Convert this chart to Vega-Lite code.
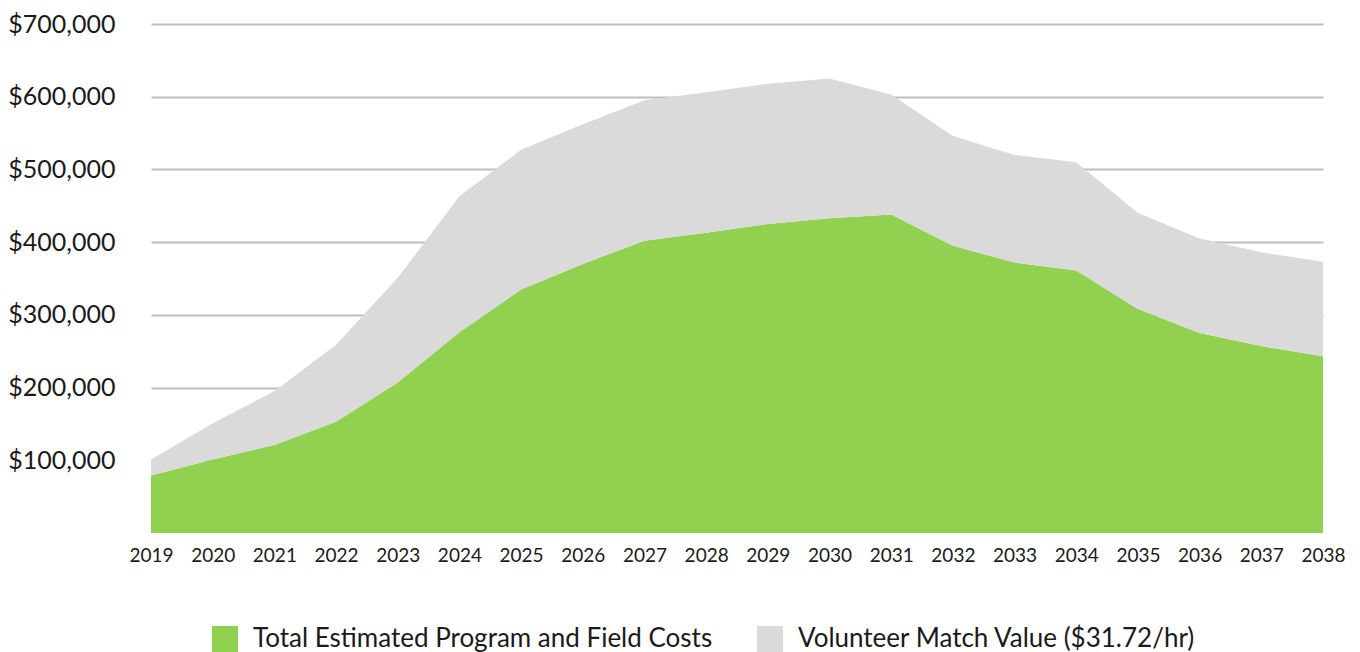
{
  "$schema": "https://vega.github.io/schema/vega-lite/v6.json",
  "autosize": "none",
  "width": 1172,
  "height": 509,
  "padding": {"left": 151, "top": 24, "right": 37, "bottom": 119},
  "background": "white",
  "config": {
    "view": {"stroke": null},
    "font": "Lato"
  },
  "data": {
    "values": [
      {"year": 2019, "series": "Total Estimated Program and Field Costs", "ord": 1, "value": 79000},
      {"year": 2020, "series": "Total Estimated Program and Field Costs", "ord": 1, "value": 101000},
      {"year": 2021, "series": "Total Estimated Program and Field Costs", "ord": 1, "value": 121000},
      {"year": 2022, "series": "Total Estimated Program and Field Costs", "ord": 1, "value": 153000},
      {"year": 2023, "series": "Total Estimated Program and Field Costs", "ord": 1, "value": 207000},
      {"year": 2024, "series": "Total Estimated Program and Field Costs", "ord": 1, "value": 276000},
      {"year": 2025, "series": "Total Estimated Program and Field Costs", "ord": 1, "value": 335000},
      {"year": 2026, "series": "Total Estimated Program and Field Costs", "ord": 1, "value": 370000},
      {"year": 2027, "series": "Total Estimated Program and Field Costs", "ord": 1, "value": 402000},
      {"year": 2028, "series": "Total Estimated Program and Field Costs", "ord": 1, "value": 413000},
      {"year": 2029, "series": "Total Estimated Program and Field Costs", "ord": 1, "value": 425000},
      {"year": 2030, "series": "Total Estimated Program and Field Costs", "ord": 1, "value": 433000},
      {"year": 2031, "series": "Total Estimated Program and Field Costs", "ord": 1, "value": 438000},
      {"year": 2032, "series": "Total Estimated Program and Field Costs", "ord": 1, "value": 395000},
      {"year": 2033, "series": "Total Estimated Program and Field Costs", "ord": 1, "value": 372000},
      {"year": 2034, "series": "Total Estimated Program and Field Costs", "ord": 1, "value": 361000},
      {"year": 2035, "series": "Total Estimated Program and Field Costs", "ord": 1, "value": 308000},
      {"year": 2036, "series": "Total Estimated Program and Field Costs", "ord": 1, "value": 275000},
      {"year": 2037, "series": "Total Estimated Program and Field Costs", "ord": 1, "value": 257000},
      {"year": 2038, "series": "Total Estimated Program and Field Costs", "ord": 1, "value": 243000},
      {"year": 2019, "series": "Volunteer Match Value ($31.72/hr)", "ord": 2, "value": 22000},
      {"year": 2020, "series": "Volunteer Match Value ($31.72/hr)", "ord": 2, "value": 50000},
      {"year": 2021, "series": "Volunteer Match Value ($31.72/hr)", "ord": 2, "value": 74000},
      {"year": 2022, "series": "Volunteer Match Value ($31.72/hr)", "ord": 2, "value": 106000},
      {"year": 2023, "series": "Volunteer Match Value ($31.72/hr)", "ord": 2, "value": 144000},
      {"year": 2024, "series": "Volunteer Match Value ($31.72/hr)", "ord": 2, "value": 187000},
      {"year": 2025, "series": "Volunteer Match Value ($31.72/hr)", "ord": 2, "value": 192000},
      {"year": 2026, "series": "Volunteer Match Value ($31.72/hr)", "ord": 2, "value": 192000},
      {"year": 2027, "series": "Volunteer Match Value ($31.72/hr)", "ord": 2, "value": 193000},
      {"year": 2028, "series": "Volunteer Match Value ($31.72/hr)", "ord": 2, "value": 193000},
      {"year": 2029, "series": "Volunteer Match Value ($31.72/hr)", "ord": 2, "value": 193000},
      {"year": 2030, "series": "Volunteer Match Value ($31.72/hr)", "ord": 2, "value": 192000},
      {"year": 2031, "series": "Volunteer Match Value ($31.72/hr)", "ord": 2, "value": 165000},
      {"year": 2032, "series": "Volunteer Match Value ($31.72/hr)", "ord": 2, "value": 151000},
      {"year": 2033, "series": "Volunteer Match Value ($31.72/hr)", "ord": 2, "value": 148000},
      {"year": 2034, "series": "Volunteer Match Value ($31.72/hr)", "ord": 2, "value": 149000},
      {"year": 2035, "series": "Volunteer Match Value ($31.72/hr)", "ord": 2, "value": 132000},
      {"year": 2036, "series": "Volunteer Match Value ($31.72/hr)", "ord": 2, "value": 130000},
      {"year": 2037, "series": "Volunteer Match Value ($31.72/hr)", "ord": 2, "value": 129000},
      {"year": 2038, "series": "Volunteer Match Value ($31.72/hr)", "ord": 2, "value": 130000}
    ]
  },
  "mark": {"type": "area", "interpolate": "linear"},
  "encoding": {
    "x": {
      "field": "year",
      "type": "quantitative",
      "scale": {"domain": [2019, 2038], "nice": false, "zero": false},
      "axis": {
        "title": null,
        "values": [2019,2020,2021,2022,2023,2024,2025,2026,2027,2028,2029,2030,2031,2032,2033,2034,2035,2036,2037,2038],
        "format": "d",
        "grid": false,
        "ticks": false,
        "domain": false,
        "labelFontSize": 19,
        "labelColor": "#1a1a1a",
        "labelPadding": 13,
        "labelFont": "Lato",
        "labelOverlap": false,
        "labelFlush": false
      }
    },
    "y": {
      "field": "value",
      "type": "quantitative",
      "stack": "zero",
      "scale": {"domain": [0, 700000], "nice": false},
      "axis": {
        "title": null,
        "values": [100000, 200000, 300000, 400000, 500000, 600000, 700000],
        "format": "$,.0f",
        "grid": true,
        "gridColor": "#bdbdbd",
        "gridWidth": 2,
        "ticks": false,
        "domain": false,
        "labelFontSize": 25,
        "labelColor": "#1a1a1a",
        "labelPadding": 36,
        "labelFont": "Lato"
      }
    },
    "color": {
      "field": "series",
      "type": "nominal",
      "scale": {
        "domain": ["Total Estimated Program and Field Costs", "Volunteer Match Value ($31.72/hr)"],
        "range": ["#92d050", "#dadada"]
      },
      "legend": {
        "title": null,
        "orient": "none",
        "direction": "horizontal",
        "legendX": 61,
        "legendY": 602,
        "symbolType": "square",
        "symbolSize": 676,
        "symbolStrokeWidth": 0,
        "symbolOpacity": 1,
        "labelFontSize": 26,
        "labelFont": "Lato",
        "labelColor": "#1a1a1a",
        "labelOffset": 15,
        "columnPadding": 44,
        "labelLimit": 700
      }
    },
    "order": {"field": "ord", "type": "quantitative"}
  }
}
